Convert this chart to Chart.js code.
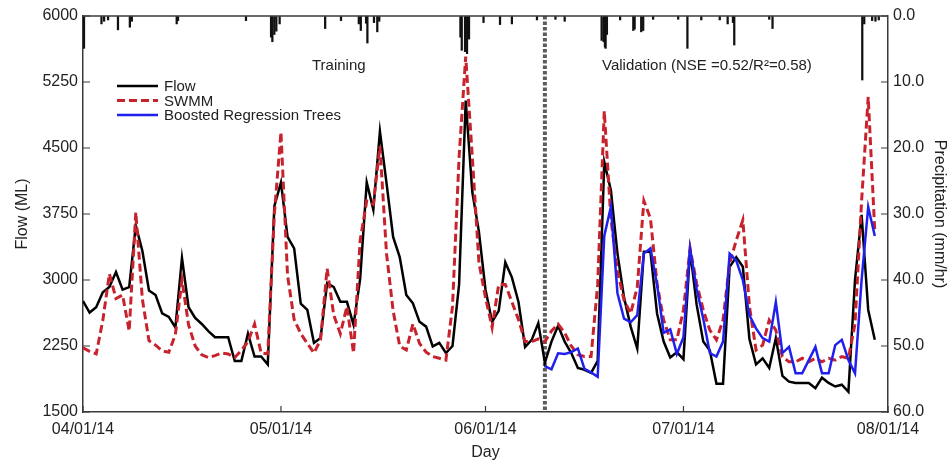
<!DOCTYPE html>
<html>
<head>
<meta charset="utf-8">
<script src="https://cdn.jsdelivr.net/npm/chart.js@4.4.1/dist/chart.umd.min.js"></script>
<style>
  html, body { margin: 0; padding: 0; background: #fff; }
  #wrap { width: 949px; height: 466px; }
</style>
</head>
<body>
<div id="wrap"><canvas id="flowChart"></canvas></div>
<script>
// day 0 = 04/01/14
var tickDays = [0, 30, 61, 91, 122];
var tickLabels = ['04/01/14', '05/01/14', '06/01/14', '07/01/14', '08/01/14'];
var splitDay = 70;

var flow = [2760, 2630, 2690, 2860, 2920, 3090, 2890, 2920, 3620, 3330,
    2880, 2830, 2620, 2580, 2460, 3250, 2690, 2570, 2500, 2420,
    2350, 2350, 2350, 2080, 2080, 2390, 2130, 2130, 2040, 3840,
    4110, 3490, 3360, 2730, 2660, 2285, 2340, 2965, 2920, 2752,
    2752, 2490, 3010, 4110, 3800, 4690, 4100, 3490, 3260, 2830,
    2735, 2525, 2470, 2245, 2285, 2170, 2250, 2950, 5040, 4000,
    3550, 2890, 2525, 2650, 3200, 3030, 2750, 2240, 2320, 2510,
    2060, 2300, 2480, 2300, 2170, 2000, 1980, 1945, 2080, 4340,
    4020, 3300, 2800, 2470, 2220, 3320, 3320, 2620, 2300, 2120,
    2180, 2100, 3340, 2720, 2300, 2200, 1820, 1820, 3150, 3260,
    3150, 2330, 2040, 2110, 2000, 2340, 1910, 1845, 1830, 1830,
    1830, 1770, 1890, 1830, 1790, 1810, 1730, 3000, 3740, 2660,
    2320];

var swmm = [2230, 2190, 2160, 2540, 3070, 2790, 2830, 2420, 3770, 2780,
    2310, 2260, 2195, 2180, 2380, 3000, 2490, 2250, 2150, 2120,
    2140, 2170, 2160, 2120, 2200, 2300, 2500, 2170, 2160, 3750,
    4680, 3050, 2550, 2390, 2280, 2170, 2320, 3130, 2600, 2390,
    2700, 2170, 3450, 3900, 3860, 4520, 3300, 2650, 2250, 2205,
    2500, 2280, 2180, 2130, 2110, 2090, 2700, 4400, 5540, 4400,
    3200, 2800, 2460, 2950, 2950, 2750, 2550, 2300, 2300, 2330,
    2300, 2420, 2500, 2400, 2250, 2150, 2130, 2130, 2950, 4920,
    3700, 3100, 2770, 2620, 2920, 3900, 3700, 2960, 2545, 2320,
    2320, 2660, 3360, 2960, 2660, 2430, 2320, 2545, 3190, 3450,
    3680, 2700, 2205, 2260, 2545, 2430, 2130, 2070, 2070, 2110,
    2070, 2110, 2070, 2110, 2090, 2130, 2110, 2500, 3900, 5080,
    3550];

// boosted regression trees, validation period only
var brtStart = 70;
var brt = [2020, 1985, 2167, 2160, 2180, 2222, 1990, 1950, 1900, 3500,
    3830, 2850, 2560, 2520, 2600, 3300, 3360, 2950, 2400, 2440,
    2160, 2350, 3360, 2900, 2560, 2170, 2130, 2300, 3300, 3220,
    3000, 2600, 2450, 2340, 2300, 2750, 2170, 2240, 1940, 1940,
    2090, 2240, 1940, 1940, 2260, 2320, 2090, 1940, 3000, 3830,
    3500];

// precipitation (mm/hr)
var rainDay = [0.15, 2.8, 3.2, 3.8, 5.3, 7.1, 7.4, 14.2, 14.4, 24.7,
    28.5, 28.7, 29.0, 29.3, 29.8, 36.7, 39.1, 41.8, 42.1, 42.9,
    43.1, 44.1, 44.6, 44.9, 57.2, 57.4, 57.9, 58.2, 58.5, 60.7,
    63.2, 65.0, 68.8, 71.6, 73.0, 78.6, 78.9, 79.1, 79.2, 79.4,
    81.4, 83.4, 83.6, 84.6, 84.9, 86.4, 90.2, 91.6, 93.7, 96.5,
    97.7, 98.5, 98.7, 104.0, 104.5, 118.1, 118.4, 119.6, 120.1, 120.6];
var rainRate = [4.9, 1.2, 0.8, 0.6, 2.1, 1.7, 0.8, 1.2, 0.7, 0.7,
    3.2, 3.9, 2.8, 2.3, 1.2, 1.9, 0.7, 1.2, 2.2, 1.1,
    4.1, 1.0, 2.4, 0.8, 3.2, 5.2, 5.4, 5.7, 3.5, 1.0,
    1.3, 1.2, 0.6, 0.5, 0.8, 3.7, 3.9, 4.7, 4.9, 2.8,
    0.6, 2.2, 2.0, 2.4, 2.2, 0.5, 0.5, 4.9, 0.6, 0.6,
    1.2, 1.0, 4.4, 0.5, 1.9, 9.7, 1.2, 0.7, 0.8, 0.6];

var FONT = '"Liberation Sans", Arial, Helvetica, sans-serif';
var TEXT = '#222';
var AXIS = '#3a3a3a';
var RED = '#c8232d';
var BLUE = '#2020ee';

function toXY(values, start) {
    return values.map(function (v, i) { return { x: start + i, y: v }; });
}

var overlay = {
    id: 'overlay',
    beforeDatasetsDraw: function (chart) {
        var ctx = chart.ctx, a = chart.chartArea;
        var px = chart.scales.x.getPixelForValue(splitDay);
        ctx.save();
        ctx.strokeStyle = '#5c5c5c';
        ctx.lineWidth = 4;
        ctx.setLineDash([3.5, 2]);
        ctx.beginPath();
        ctx.moveTo(px, a.top);
        ctx.lineTo(px, a.bottom);
        ctx.stroke();
        ctx.restore();
    },
    afterDraw: function (chart) {
        var ctx = chart.ctx, a = chart.chartArea, s = chart.scales;
        ctx.save();
        // top border
        ctx.strokeStyle = AXIS;
        ctx.lineWidth = 1.5;
        ctx.beginPath();
        ctx.moveTo(a.left, a.top);
        ctx.lineTo(a.right, a.top);
        ctx.stroke();
        // inward ticks
        ctx.lineWidth = 1.2;
        ctx.beginPath();
        s.y.ticks.forEach(function (t) {
            var py = s.y.getPixelForValue(t.value);
            ctx.moveTo(a.left, py); ctx.lineTo(a.left + 7, py);
        });
        s.yP.ticks.forEach(function (t) {
            var py = s.yP.getPixelForValue(t.value);
            ctx.moveTo(a.right, py); ctx.lineTo(a.right - 7, py);
        });
        s.x.ticks.forEach(function (t) {
            var px = s.x.getPixelForValue(t.value);
            ctx.moveTo(px, a.bottom); ctx.lineTo(px, a.bottom - 6);
        });
        ctx.stroke();

        // period labels
        ctx.fillStyle = TEXT;
        ctx.font = '15px ' + FONT;
        ctx.textBaseline = 'alphabetic';
        ctx.textAlign = 'left';
        ctx.fillText('Training', a.left + 229, a.top + 54);
        ctx.fillText('Validation (NSE =0.52/R\u00b2=0.58)', a.left + 519, a.top + 54);

        // legend
        var items = [
            { label: 'Flow', color: '#000', dash: [] },
            { label: 'SWMM', color: RED, dash: [8, 4] },
            { label: 'Boosted Regression Trees', color: BLUE, dash: [] }
        ];
        var lx = a.left + 34, ly = a.top + 70;
        items.forEach(function (it, i) {
            var yy = ly + i * 14.5;
            ctx.strokeStyle = it.color;
            ctx.lineWidth = it.dash.length ? 3 : 2.5;
            ctx.setLineDash(it.dash);
            ctx.beginPath();
            ctx.moveTo(lx, yy);
            ctx.lineTo(lx + 41, yy);
            ctx.stroke();
            ctx.setLineDash([]);
            ctx.textBaseline = 'middle';
            ctx.fillText(it.label, lx + 47, yy + 1);
        });
        ctx.restore();
    }
};

document.addEventListener('DOMContentLoaded', function () {
    Chart.defaults.font.family = FONT;
    Chart.defaults.color = TEXT;

    var ctxFlow = document.getElementById('flowChart').getContext('2d');
    var flowChart = new Chart(ctxFlow, {
        type: 'line',
        data: {
            datasets: [{
                label: 'Boosted Regression Trees',
                data: toXY(brt, brtStart),
                borderColor: BLUE,
                borderWidth: 2.5,
                pointRadius: 0,
                tension: 0,
                order: 1
            }, {
                label: 'SWMM',
                data: toXY(swmm, 0),
                borderColor: RED,
                borderWidth: 3,
                borderDash: [8, 4],
                pointRadius: 0,
                tension: 0,
                order: 2
            }, {
                label: 'Flow',
                data: toXY(flow, 0),
                borderColor: '#000',
                borderWidth: 2.5,
                pointRadius: 0,
                tension: 0,
                order: 3
            }, {
                type: 'bar',
                label: 'Precipitation',
                data: rainDay.map(function (d, i) { return { x: d, y: rainRate[i] }; }),
                yAxisID: 'yP',
                backgroundColor: '#111',
                barThickness: 1.6,
                order: 4
            }]
        },
        options: {
            responsive: true,
            maintainAspectRatio: false,
            animation: false,
            devicePixelRatio: 1,
            layout: { padding: { top: 16, left: 0, right: 0, bottom: 0 } },
            plugins: {
                legend: { display: false },
                tooltip: { enabled: false }
            },
            scales: {
                x: {
                    type: 'linear',
                    min: 0,
                    max: 122,
                    offset: false,
                    afterBuildTicks: function (scale) {
                        scale.ticks = tickDays.map(function (v) { return { value: v }; });
                    },
                    afterFit: function (scale) { scale.height = 54; },
                    ticks: {
                        autoSkip: false,
                        maxRotation: 0,
                        padding: 8,
                        font: { size: 16 },
                        callback: function (v) { return tickLabels[tickDays.indexOf(v)]; }
                    },
                    grid: { drawOnChartArea: false, drawTicks: false },
                    border: { display: true, color: AXIS, width: 1.5 },
                    title: { display: true, text: 'Day', font: { size: 16 }, padding: { top: 0, bottom: 4 } }
                },
                y: {
                    position: 'left',
                    min: 1500,
                    max: 6000,
                    afterFit: function (scale) { scale.width = 83; },
                    ticks: {
                        stepSize: 750,
                        padding: 5,
                        font: { size: 16 },
                        callback: function (v) { return String(v); }
                    },
                    grid: { drawOnChartArea: false, drawTicks: false },
                    border: { display: true, color: AXIS, width: 1.5 },
                    title: { display: true, text: 'Flow (ML)', font: { size: 16 }, padding: { top: 13, bottom: 0 } }
                },
                yP: {
                    position: 'right',
                    reverse: true,
                    min: 0,
                    max: 60,
                    afterFit: function (scale) { scale.width = 61; },
                    ticks: {
                        stepSize: 10,
                        padding: 5,
                        font: { size: 16 },
                        callback: function (v) { return v.toFixed(1); }
                    },
                    grid: { drawOnChartArea: false, drawTicks: false },
                    border: { display: true, color: AXIS, width: 1.5 },
                    title: { display: true, text: 'Precipitation (mm/hr)', font: { size: 16 }, padding: { top: 0, bottom: 0 } }
                }
            }
        },
        plugins: [overlay]
    });
});
</script>
</body>
</html>
